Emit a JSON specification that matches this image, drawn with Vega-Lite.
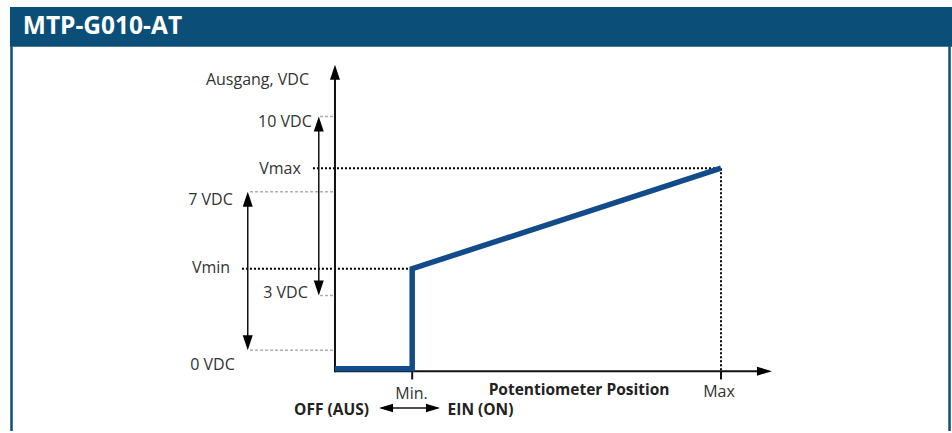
{
  "$schema": "https://vega.github.io/schema/vega-lite/v6.json",
  "width": 952,
  "height": 433,
  "padding": 0,
  "autosize": {"type": "fit", "contains": "padding"},
  "background": "white",
  "config": {"view": {"stroke": null}},
  "datasets": {
    "banner": [{"x": -4.21, "x2": 7.992, "y": 31.65, "y2": 35.53, "title": "MTP-G010-AT", "tx": -3.012, "ty": 33.6}],
    "segments": [
      {"kind": "frame", "x": -4.19, "x2": -4.19, "y": 31.7, "y2": -5.83},
      {"kind": "frame", "x": 7.96, "x2": 7.96, "y": 31.7, "y2": -5.83},
      {"kind": "grid", "x": -0.194, "x2": 0, "y": 24.85, "y2": 24.85},
      {"kind": "grid", "x": -1.10, "x2": 0, "y": 17.5, "y2": 17.5},
      {"kind": "grid", "x": -0.194, "x2": 0, "y": 7.38, "y2": 7.38},
      {"kind": "grid", "x": -1.10, "x2": 0, "y": 2.04, "y2": 2.04},
      {"kind": "guide", "x": -0.285, "x2": 5, "y": 19.8, "y2": 19.8},
      {"kind": "guide", "x": -1.205, "x2": 1, "y": 10, "y2": 10},
      {"kind": "guide", "x": 5, "x2": 5, "y": 19.8, "y2": -0.8},
      {"kind": "axis", "x": 0, "x2": 0, "y": -0.1, "y2": 29},
      {"kind": "axis", "x": 0, "x2": 5.5, "y": 0, "y2": 0},
      {"kind": "axis", "x": 1, "x2": 1, "y": 0, "y2": -0.8},
      {"kind": "axis", "x": 5, "x2": 5, "y": 0, "y2": -0.8},
      {"kind": "shaft", "x": -0.21, "x2": -0.21, "y": 24.0, "y2": 8.2},
      {"kind": "shaft", "x": -1.13, "x2": -1.13, "y": 16.8, "y2": 2.8},
      {"kind": "shaft", "x": 0.6, "x2": 1.33, "y": -3.59, "y2": -3.59}
    ],
    "curve": [
      {"order": 1, "position": 0, "output": 0.25},
      {"order": 2, "position": 1, "output": 0.25},
      {"order": 3, "position": 1, "output": 10},
      {"order": 4, "position": 5, "output": 19.8}
    ],
    "arrows": [
      {"x": 0, "y": 29.9, "dir": "up", "kind": "big"},
      {"x": 5.66, "y": 0, "dir": "right", "kind": "big"},
      {"x": -0.21, "y": 24.85, "dir": "up", "kind": "big"},
      {"x": -0.21, "y": 7.38, "dir": "down", "kind": "big"},
      {"x": -1.13, "y": 17.5, "dir": "up", "kind": "big"},
      {"x": -1.13, "y": 2.04, "dir": "down", "kind": "big"},
      {"x": 0.57, "y": -3.59, "dir": "left", "kind": "small"},
      {"x": 1.36, "y": -3.59, "dir": "right", "kind": "small"}
    ],
    "labels": [
      {"text": "Ausgang, VDC", "x": -1.004, "y": 28.44, "kind": "regular"},
      {"text": "10 VDC", "x": -0.648, "y": 24.27, "kind": "regular"},
      {"text": "Vmax", "x": -0.712, "y": 19.75, "kind": "regular"},
      {"text": "7 VDC", "x": -1.613, "y": 16.69, "kind": "regular"},
      {"text": "Vmin", "x": -1.606, "y": 10.09, "kind": "regular"},
      {"text": "3 VDC", "x": -0.641, "y": 7.6, "kind": "regular"},
      {"text": "0 VDC", "x": -1.587, "y": 0.62, "kind": "regular"},
      {"text": "Min.", "x": 0.991, "y": -2.2, "kind": "regular"},
      {"text": "Max", "x": 4.974, "y": -2.0, "kind": "regular"},
      {"text": "Potentiometer Position", "x": 3.161, "y": -1.8, "kind": "bold"},
      {"text": "OFF (AUS)", "x": -0.045, "y": -3.75, "kind": "bold"},
      {"text": "EIN (ON)", "x": 1.885, "y": -3.75, "kind": "bold"}
    ]
  },
  "layer": [
    {
      "data": {"name": "banner"},
      "mark": {"type": "rect", "color": "#0b4f79"},
      "encoding": {
        "x": {"field": "x", "type": "quantitative", "axis": null, "scale": {"domain": [-4.339, 7.992], "nice": false, "zero": false}},
        "x2": {"field": "x2"},
        "y": {"field": "y", "type": "quantitative", "axis": null, "scale": {"domain": [-5.83, 36.21], "nice": false, "zero": false}},
        "y2": {"field": "y2"}
      }
    },
    {
      "data": {"name": "banner"},
      "mark": {"type": "text", "color": "white", "font": "Open Sans", "fontSize": 24.5, "fontWeight": "bold", "align": "center", "baseline": "middle"},
      "encoding": {
        "x": {"field": "tx", "type": "quantitative"},
        "y": {"field": "ty", "type": "quantitative"},
        "text": {"field": "title"}
      }
    },
    {
      "data": {"name": "segments"},
      "transform": [{"filter": "datum.kind === 'frame'"}],
      "mark": {"type": "rule", "color": "#0b4f79", "strokeWidth": 2.5},
      "encoding": {
        "x": {"field": "x", "type": "quantitative"}, "x2": {"field": "x2"},
        "y": {"field": "y", "type": "quantitative"}, "y2": {"field": "y2"}
      }
    },
    {
      "data": {"name": "segments"},
      "transform": [{"filter": "datum.kind === 'grid'"}],
      "mark": {"type": "rule", "color": "#b0b0b0", "strokeWidth": 1.5, "strokeDash": [3, 2]},
      "encoding": {
        "x": {"field": "x", "type": "quantitative"}, "x2": {"field": "x2"},
        "y": {"field": "y", "type": "quantitative"}, "y2": {"field": "y2"}
      }
    },
    {
      "data": {"name": "segments"},
      "transform": [{"filter": "datum.kind === 'guide'"}],
      "mark": {"type": "rule", "color": "#000000", "strokeWidth": 2, "strokeDash": [2, 2]},
      "encoding": {
        "x": {"field": "x", "type": "quantitative"}, "x2": {"field": "x2"},
        "y": {"field": "y", "type": "quantitative"}, "y2": {"field": "y2"}
      }
    },
    {
      "data": {"name": "segments"},
      "transform": [{"filter": "datum.kind === 'axis'"}],
      "mark": {"type": "rule", "color": "#111111", "strokeWidth": 2},
      "encoding": {
        "x": {"field": "x", "type": "quantitative"}, "x2": {"field": "x2"},
        "y": {"field": "y", "type": "quantitative"}, "y2": {"field": "y2"}
      }
    },
    {
      "data": {"name": "segments"},
      "transform": [{"filter": "datum.kind === 'shaft'"}],
      "mark": {"type": "rule", "color": "#111111", "strokeWidth": 1.5},
      "encoding": {
        "x": {"field": "x", "type": "quantitative"}, "x2": {"field": "x2"},
        "y": {"field": "y", "type": "quantitative"}, "y2": {"field": "y2"}
      }
    },
    {
      "data": {"name": "curve"},
      "mark": {"type": "line", "color": "#124b8a", "strokeWidth": 5.5, "strokeJoin": "miter", "strokeCap": "butt"},
      "encoding": {
        "x": {"field": "position", "type": "quantitative"},
        "y": {"field": "output", "type": "quantitative"},
        "order": {"field": "order", "type": "quantitative"}
      }
    },
    {
      "data": {"name": "arrows"},
      "mark": {"type": "point", "filled": true, "color": "#000000", "opacity": 1, "strokeWidth": 0},
      "encoding": {
        "x": {"field": "x", "type": "quantitative"},
        "y": {"field": "y", "type": "quantitative"},
        "shape": {"field": "dir", "type": "nominal", "legend": null, "scale": {"domain": ["up", "down", "left", "right"], "range": ["M0,0L0.667,2L-0.667,2Z", "M0,0L0.667,-2L-0.667,-2Z", "M0,0L2,0.6L2,-0.6Z", "M0,0L-2,0.6L-2,-0.6Z"]}},
        "size": {"field": "kind", "type": "nominal", "legend": null, "scale": {"domain": ["big", "small"], "range": [225, 196]}}
      }
    },
    {
      "data": {"name": "labels"},
      "transform": [{"filter": "datum.kind === 'regular'"}],
      "mark": {"type": "text", "color": "#333333", "font": "Open Sans", "fontSize": 16, "align": "center", "baseline": "middle"},
      "encoding": {
        "x": {"field": "x", "type": "quantitative"},
        "y": {"field": "y", "type": "quantitative"},
        "text": {"field": "text"}
      }
    },
    {
      "data": {"name": "labels"},
      "transform": [{"filter": "datum.kind === 'bold'"}],
      "mark": {"type": "text", "color": "#222222", "font": "Open Sans", "fontSize": 15.5, "fontWeight": "bold", "align": "center", "baseline": "middle"},
      "encoding": {
        "x": {"field": "x", "type": "quantitative"},
        "y": {"field": "y", "type": "quantitative"},
        "text": {"field": "text"}
      }
    }
  ]
}
